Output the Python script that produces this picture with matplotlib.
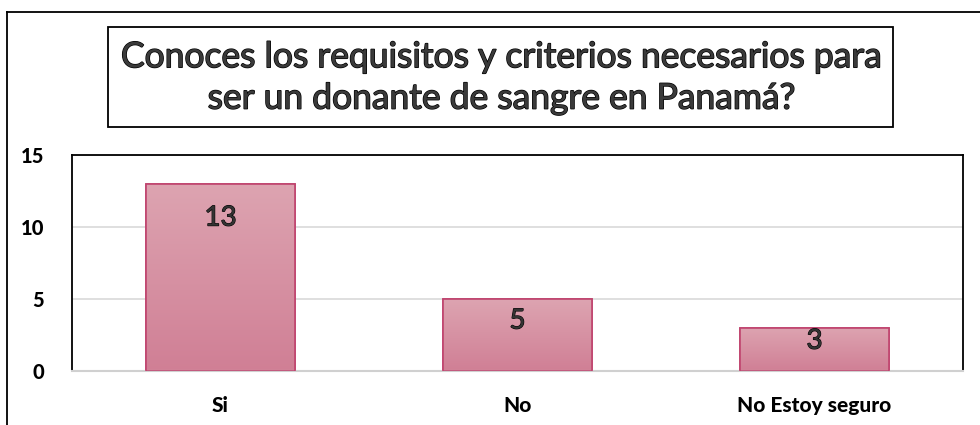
import matplotlib
matplotlib.use("Agg")
import matplotlib.pyplot as plt
import matplotlib.patheffects as pe
from matplotlib.patches import Rectangle
from matplotlib.lines import Line2D
from matplotlib.colors import LinearSegmentedColormap
import numpy as np

categories = ["Si", "No", "No Estoy seguro"]
values = [13, 5, 3]
yticks = [0, 5, 10, 15]
title = "Conoces los requisitos y criterios necesarios para\nser un donante de sangre en Panamá?"

W, H = 980, 425
fig = plt.figure(figsize=(W / 100, H / 100), dpi=100)
fam = ["Lato", "DejaVu Sans"]

# outer chart border (top and left visible)
fig.add_artist(Line2D([7 / W, 1.0], [1 - 12 / H, 1 - 12 / H], color="black", lw=1.3, transform=fig.transFigure))
fig.add_artist(Line2D([7 / W, 7 / W], [1 - 12 / H, 0], color="black", lw=1.3, transform=fig.transFigure))

# title box
fig.add_artist(Rectangle((108 / W, 1 - 127 / H), (893 - 108) / W, 100 / H, transform=fig.transFigure,
                         fill=False, edgecolor="black", lw=1.3))
fig.text(501 / W, 1 - 78 / H, title, ha="center", va="center", fontsize=25.5, family=fam,
         color="#3a3a3a", linespacing=1.36,
         path_effects=[pe.withStroke(linewidth=1.0, foreground="black")])

ax = fig.add_axes([72 / W, 1 - 371 / H, (963 - 72) / W, (371 - 155) / H])
x = np.arange(len(categories))
bars = ax.bar(x, values, width=0.5, color="#d893a2", edgecolor="#c0446e", linewidth=1.2, zorder=2)

# gradient fill
grad = np.linspace(0, 1, 256).reshape(-1, 1)
cmap = LinearSegmentedColormap.from_list("g", ["#d07f95", "#dda4b1"])
for b in bars:
    x0, y0 = b.get_x(), b.get_y()
    w, h = b.get_width(), b.get_height()
    im = ax.imshow(grad, extent=(x0, x0 + w, y0, y0 + h), origin="lower", cmap=cmap,
                   aspect="auto", zorder=2.5)
    im.set_clip_path(b)
    ax.add_patch(Rectangle((x0, y0), w, h, fill=False, edgecolor="#c0446e", lw=1.2, zorder=3))

for xi, v in zip(x, values):
    ax.text(xi, max(v - 2.35, 0.7 * v), str(v), ha="center", va="center", fontsize=20, family=fam,
            color="#333333", zorder=4,
            path_effects=[pe.withStroke(linewidth=0.8, foreground="black")])

ax.set_xlim(-0.5, len(categories) - 0.5)
ax.set_ylim(0, 15)
ax.set_yticks(yticks)
ax.set_yticklabels([str(t) for t in yticks], fontsize=14.5, fontweight="black", family=fam)
ax.set_xticks(x)
ax.set_xticklabels(categories, fontsize=15, fontweight="black", family=fam)
ax.tick_params(axis="both", length=0)
ax.tick_params(axis="y", pad=20)
ax.tick_params(axis="x", pad=18)
ax.yaxis.grid(True, color="#d9d9d9", lw=1.2, zorder=0)
ax.set_axisbelow(True)
for s in ["left", "top", "right"]:
    ax.spines[s].set_color("black")
    ax.spines[s].set_linewidth(1.3)
ax.spines["bottom"].set_color("#d0d0d0")
ax.spines["bottom"].set_linewidth(1.5)

fig.savefig("out.png", dpi=100)
